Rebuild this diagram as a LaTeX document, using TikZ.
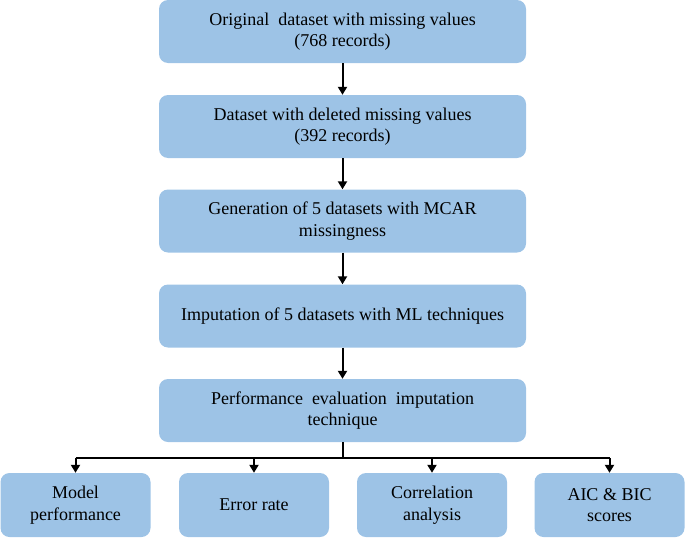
\documentclass[tikz,border=0pt]{standalone}
\usepackage{fontspec}
\setmainfont{Liberation Serif}
\usetikzlibrary{arrows.meta}
\definecolor{boxblue}{HTML}{9DC3E6}
\tikzset{
  mainbox/.style={fill=boxblue, draw=none, rounded corners=9pt, minimum width=367pt, minimum height=63pt, inner sep=0pt, align=center, font=\fontsize{18}{21.5}\selectfont},
  subbox/.style={fill=boxblue, draw=none, rounded corners=9pt, minimum width=150pt, minimum height=64pt, inner sep=0pt, align=center, font=\fontsize{18}{21.5}\selectfont},
  conn/.style={line width=2pt, -{Triangle[length=8pt,width=9pt]}},
  plain/.style={line width=2pt}
}
\begin{document}
\begin{tikzpicture}[x=1pt,y=-1pt]
\useasboundingbox (0,0) rectangle (685,538);
\node[mainbox] (b1) at (342.5,31.5) {Original\enspace dataset with missing values\\(768 records)};
\node[mainbox] (b2) at (342.5,126.5) {Dataset with deleted missing values\\(392 records)};
\node[mainbox] (b3) at (342.5,221) {Generation of 5 datasets with MCAR\\missingness};
\node[mainbox] (b4) at (342.5,316) {Imputation of 5 datasets with ML techniques};
\node[mainbox] (b5) at (342.5,410.5) {Performance\enspace evaluation\enspace imputation\\technique};
\node[subbox] (s1) at (75.5,505) {Model\\performance};
\node[subbox] (s2) at (254,505) {Error rate};
\node[subbox] (s3) at (432,505) {Correlation\\analysis};
\node[subbox] (s4) at (609.5,505) {AIC \& BIC\\scores};
\draw[conn] (b1) -- (b2);
\draw[conn] (b2) -- (b3);
\draw[conn] (b3) -- (b4);
\draw[conn] (b4) -- (b5);
\coordinate (j) at (342.5,458);
\draw[plain] (b5.south) -- (j);
\draw[plain] (s1.north |- j) -- (s4.north |- j);
\draw[conn] (s1.north |- j) -- (s1.north);
\draw[conn] (s2.north |- j) -- (s2.north);
\draw[conn] (s3.north |- j) -- (s3.north);
\draw[conn] (s4.north |- j) -- (s4.north);
\end{tikzpicture}
\end{document}
